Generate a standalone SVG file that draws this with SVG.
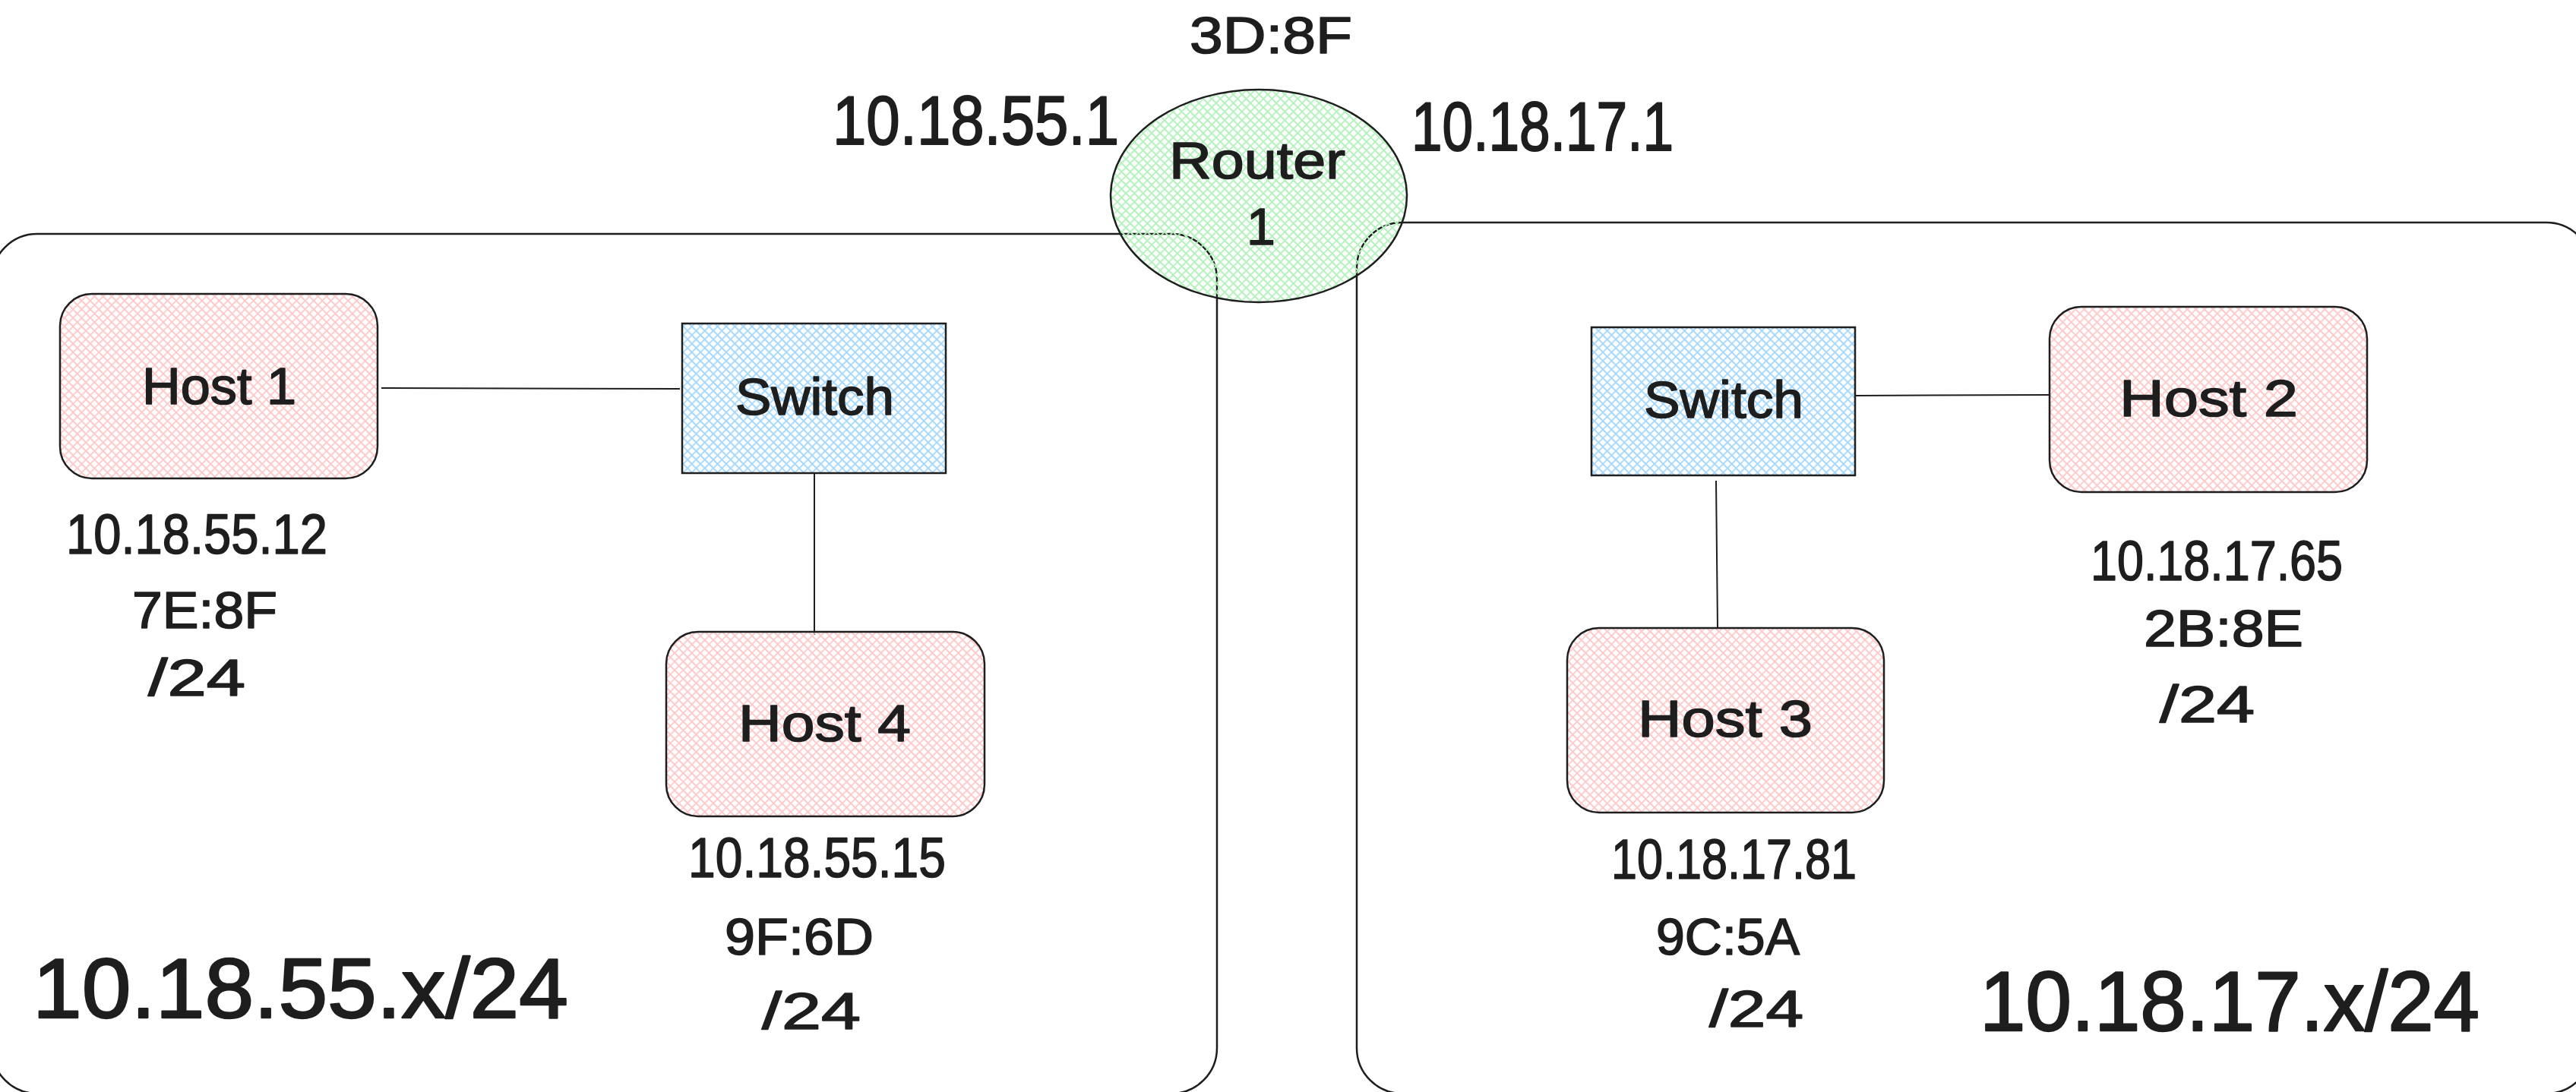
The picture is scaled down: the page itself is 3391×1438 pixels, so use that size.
<svg xmlns="http://www.w3.org/2000/svg" width="3391" height="1438" viewBox="0 0 3391 1438">
  <style>
    .frame { fill: none; stroke: #1e1e1e; stroke-width: 2.5; }
    .box { stroke: #1e1e1e; stroke-width: 2.5; }
    .wire { stroke: #1e1e1e; stroke-width: 2; fill: none; }
    text { font-family: "Liberation Sans", Arial, sans-serif; fill: #1e1e1e; stroke: #1e1e1e; stroke-width: 1.6; stroke-linejoin: round; }
    .lbl { font-size: 68px; }
    .ip { font-size: 74px; }
    .gw { font-size: 90px; stroke-width: 2; }
    .net { font-size: 112px; stroke-width: 2.4; }
  </style>
  <defs>
    <!-- cross-hatch fills, one per device kind -->
    <pattern id="hatch-host" width="8" height="8" patternUnits="userSpaceOnUse" patternTransform="rotate(45)">
      <path d="M0,4 H8 M4,0 V8" stroke="#ffc9c9" stroke-width="1.8"/>
    </pattern>
    <pattern id="hatch-switch" width="8" height="8" patternUnits="userSpaceOnUse" patternTransform="rotate(45)">
      <path d="M0,4 H8 M4,0 V8" stroke="#a5d8ff" stroke-width="1.8"/>
    </pattern>
    <pattern id="hatch-router" width="8" height="8" patternUnits="userSpaceOnUse" patternTransform="rotate(45)">
      <path d="M0,4 H8 M4,0 V8" stroke="#b2f2bb" stroke-width="1.8"/>
    </pattern>
  </defs>

  <!-- subnet frames -->
  <g id="subnet-55">
    <rect class="frame" x="-11" y="308" width="1613" height="1132" rx="60" ry="60"/>
    <text class="net" x="43" y="1340" textLength="705" lengthAdjust="spacingAndGlyphs">10.18.55.x/24</text>
  </g>
  <g id="subnet-17">
    <rect class="frame" x="1786" y="293" width="1626" height="1147" rx="60" ry="60"/>
    <text class="net" x="2606" y="1357" textLength="658" lengthAdjust="spacingAndGlyphs">10.18.17.x/24</text>
  </g>

  <!-- links -->
  <g id="connectors">
    <line class="wire" x1="502" y1="511" x2="895" y2="512"/>
    <line class="wire" x1="1072" y1="623" x2="1072" y2="836"/>
    <line class="wire" x1="2442" y1="521" x2="2698" y2="520"/>
    <line class="wire" x1="2259" y1="633" x2="2261" y2="827"/>
  </g>

  <!-- devices -->
  <g id="host-1">
    <rect class="box" x="79" y="387" width="418" height="243" rx="42" ry="42" fill="url(#hatch-host)"/>
    <text class="lbl" x="187" y="532" textLength="203" lengthAdjust="spacingAndGlyphs">Host 1</text>
    <text class="ip" x="87" y="729" textLength="344" lengthAdjust="spacingAndGlyphs">10.18.55.12</text>
    <text class="lbl" x="174" y="827" textLength="191" lengthAdjust="spacingAndGlyphs">7E:8F</text>
    <text class="lbl" x="195" y="916" textLength="128" lengthAdjust="spacingAndGlyphs">/24</text>
  </g>

  <g id="switch-55">
    <rect class="box" x="898" y="426" width="347" height="197" fill="url(#hatch-switch)"/>
    <text class="lbl" x="968" y="546" textLength="209" lengthAdjust="spacingAndGlyphs">Switch</text>
  </g>

  <g id="host-4">
    <rect class="box" x="877" y="832" width="419" height="243" rx="42" ry="42" fill="url(#hatch-host)"/>
    <text class="lbl" x="972" y="976" textLength="227" lengthAdjust="spacingAndGlyphs">Host 4</text>
    <text class="ip" x="906" y="1155" textLength="339" lengthAdjust="spacingAndGlyphs">10.18.55.15</text>
    <text class="lbl" x="954" y="1257" textLength="196" lengthAdjust="spacingAndGlyphs">9F:6D</text>
    <text class="lbl" x="1003" y="1355" textLength="130" lengthAdjust="spacingAndGlyphs">/24</text>
  </g>

  <g id="switch-17">
    <rect class="box" x="2095" y="431" width="347" height="195" fill="url(#hatch-switch)"/>
    <text class="lbl" x="2164" y="550" textLength="210" lengthAdjust="spacingAndGlyphs">Switch</text>
  </g>

  <g id="host-2">
    <rect class="box" x="2698" y="404" width="418" height="244" rx="42" ry="42" fill="url(#hatch-host)"/>
    <text class="lbl" x="2790" y="548" textLength="235" lengthAdjust="spacingAndGlyphs">Host 2</text>
    <text class="ip" x="2752" y="764" textLength="332" lengthAdjust="spacingAndGlyphs">10.18.17.65</text>
    <text class="lbl" x="2822" y="851" textLength="210" lengthAdjust="spacingAndGlyphs">2B:8E</text>
    <text class="lbl" x="2843" y="951" textLength="125" lengthAdjust="spacingAndGlyphs">/24</text>
  </g>

  <g id="host-3">
    <rect class="box" x="2063" y="827" width="417" height="243" rx="42" ry="42" fill="url(#hatch-host)"/>
    <text class="lbl" x="2156" y="970" textLength="230" lengthAdjust="spacingAndGlyphs">Host 3</text>
    <text class="ip" x="2121" y="1157" textLength="323" lengthAdjust="spacingAndGlyphs">10.18.17.81</text>
    <text class="lbl" x="2180" y="1257" textLength="189" lengthAdjust="spacingAndGlyphs">9C:5A</text>
    <text class="lbl" x="2250" y="1352" textLength="124" lengthAdjust="spacingAndGlyphs">/24</text>
  </g>

  <g id="router-1">
    <ellipse class="box" cx="1657" cy="258" rx="195" ry="140" fill="url(#hatch-router)"/>
    <text class="lbl" x="1539" y="235" textLength="232" lengthAdjust="spacingAndGlyphs">Router</text>
    <text class="lbl" x="1660" y="322" text-anchor="middle">1</text>
    <text class="lbl" x="1566" y="70" textLength="214" lengthAdjust="spacingAndGlyphs">3D:8F</text>
    <text class="gw" x="1096" y="190" textLength="377" lengthAdjust="spacingAndGlyphs">10.18.55.1</text>
    <text class="gw" x="1858" y="198" textLength="345" lengthAdjust="spacingAndGlyphs">10.18.17.1</text>
  </g>
</svg>
